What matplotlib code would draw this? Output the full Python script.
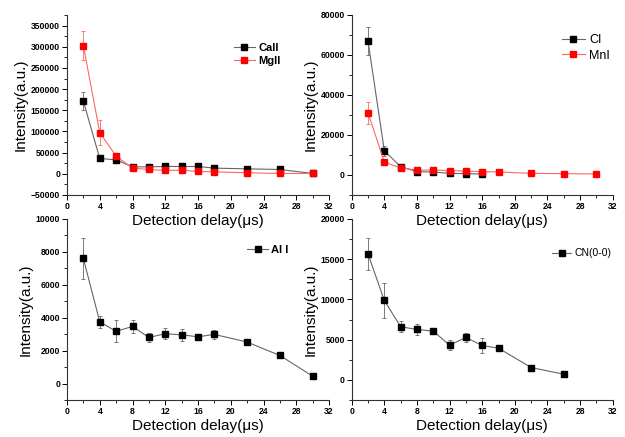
import matplotlib
matplotlib.use("Agg")
import matplotlib.pyplot as plt
from matplotlib.ticker import MultipleLocator

plt.rcParams["font.family"] = ["Liberation Sans", "DejaVu Sans"]

# delay times (us)
t_full = [2, 4, 6, 8, 10, 12, 14, 16, 18, 22, 26, 30]
t_ci = [2, 4, 6, 8, 10, 12, 14, 16]
t_cn = [2, 4, 6, 8, 10, 12, 14, 16, 18, 22, 26]

ca_ii = [171400, 36200, 33000, 16500, 16500, 17300, 17300, 17300, 13400, 11800, 10200, 800]
ca_ii_err = [21000, 2500, 3000, 2000, 1500, 1500, 1500, 1500, 1000, 1000, 1000, 500]
mg_ii = [302600, 97500, 41700, 13400, 10200, 7900, 8600, 5500, 4700, 2400, 800, 800]
mg_ii_err = [35000, 29000, 6000, 2000, 1500, 1000, 1000, 800, 800, 500, 300, 300]

c_i = [67000, 12150, 4160, 1660, 1500, 830, 670, 500]
c_i_err = [7000, 2500, 600, 300, 300, 200, 200, 150]
mn_i = [31100, 6500, 3500, 2500, 2500, 2160, 2000, 1660, 1500, 830, 670, 500]
mn_i_err = [5600, 1000, 400, 300, 300, 250, 250, 200, 200, 150, 100, 100]

al_i = [7600, 3750, 3170, 3470, 2800, 3025, 2960, 2840, 2985, 2520, 1705, 450]
al_i_err = [1270, 370, 670, 370, 300, 330, 370, 100, 280, 60, 60, 40]

cn = [15650, 9880, 6600, 6270, 6060, 4320, 5270, 4275, 3940, 1535, 705]
cn_err = [2000, 2150, 660, 660, 300, 660, 580, 900, 150, 120, 80]

fig = plt.figure(figsize=(6.25, 4.37), dpi=100)

ax_tl = fig.add_axes([0.1072, 0.5538, 0.4192, 0.4119])
ax_tr = fig.add_axes([0.5627, 0.5538, 0.4176, 0.4119])
ax_bl = fig.add_axes([0.1072, 0.0847, 0.4192, 0.4142])
ax_br = fig.add_axes([0.5627, 0.0847, 0.4176, 0.4142])
for ax in (ax_tl, ax_tr, ax_bl, ax_br):
    # transparent so the upper x labels stay visible over the lower panels
    ax.patch.set_visible(False)


def series(ax, x, y, err, color, line_color):
    cont = ax.errorbar(x, y, yerr=err, color=line_color, ecolor=line_color, elinewidth=0.6,
                       capsize=1.6, capthick=0.6, linewidth=0.8, marker="s", markersize=4,
                       markerfacecolor=color, markeredgecolor=color)
    return cont[0]


def style(ax, ylim, ymajor, handles, labels, legend_size, legend_bold, legend_loc):
    ax.set_xlim(0, 32)
    ax.set_ylim(*ylim)
    ax.xaxis.set_major_locator(MultipleLocator(4))
    ax.xaxis.set_minor_locator(MultipleLocator(2))
    ax.yaxis.set_major_locator(MultipleLocator(ymajor))
    ax.yaxis.set_minor_locator(MultipleLocator(ymajor / 2))
    for side in ("top", "right"):
        ax.spines[side].set_visible(False)
    for side in ("left", "bottom"):
        ax.spines[side].set_linewidth(0.8)
        ax.spines[side].set_color("#333333")
    ax.tick_params(which="major", direction="out", length=3.5, width=0.7, labelsize=6.2, pad=1.5)
    ax.tick_params(which="minor", direction="out", length=2, width=0.6)
    for lbl in ax.get_xticklabels() + ax.get_yticklabels():
        lbl.set_fontweight("bold")
    ax.set_xlabel("Detection delay(\u03bcs)", fontsize=11, labelpad=2)
    ax.set_ylabel("Intensity(a.u.)", fontsize=11, labelpad=2)
    ax.legend(handles, labels, loc="upper left", bbox_to_anchor=legend_loc, frameon=False,
              handlelength=1.9, handletextpad=0.3, borderaxespad=0, labelspacing=0.25,
              prop={"size": legend_size, "weight": "bold" if legend_bold else "normal"})


h1 = series(ax_tl, t_full, ca_ii, ca_ii_err, "black", "#666666")
h2 = series(ax_tl, t_full, mg_ii, mg_ii_err, "#ff0000", "#ff6666")
style(ax_tl, (-50000, 375000), 50000, [h1, h2], ["CaII", "MgII"], 8, True, (0.62, 0.87))

h1 = series(ax_tr, t_ci, c_i, c_i_err, "black", "#666666")
h2 = series(ax_tr, t_full, mn_i, mn_i_err, "#ff0000", "#ff6666")
style(ax_tr, (-10000, 80000), 20000, [h1, h2], ["CI", "MnI"], 9, False, (0.785, 0.92))

h1 = series(ax_bl, t_full, al_i, al_i_err, "black", "#666666")
style(ax_bl, (-1000, 10000), 2000, [h1], ["Al I"], 8, True, (0.67, 0.88))

h1 = series(ax_br, t_cn, cn, cn_err, "black", "#666666")
style(ax_br, (-2500, 20000), 5000, [h1], ["CN(0-0)"], 7.5, False, (0.75, 0.86))

fig.savefig("out.png", dpi=100)
